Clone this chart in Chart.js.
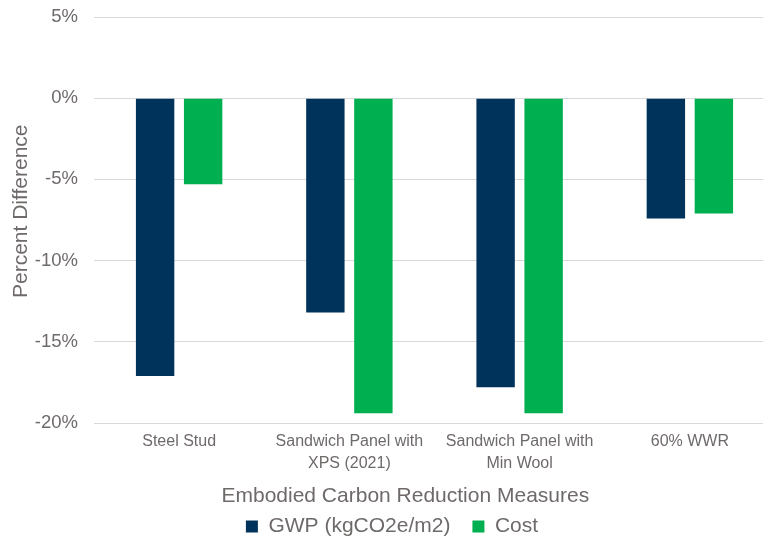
<!DOCTYPE html>
<html>
<head>
<meta charset="utf-8">
<script src="https://cdn.jsdelivr.net/npm/chart.js@4/dist/chart.umd.min.js"></script>
<style>
  html, body { margin: 0; padding: 0; background: #ffffff; overflow: hidden; }
  #wrap { width: 763px; height: 538px; overflow: hidden; position: relative; }
  #chart { position: absolute; left: 0; top: 0; }
</style>
</head>
<body>
<div id="wrap"><canvas id="chart" width="776" height="547"></canvas></div>
<script>
// Embodied carbon reduction measures vs. baseline (percent difference)
const categories = [
  "Steel Stud",
  ["Sandwich Panel with", "XPS (2021)"],
  ["Sandwich Panel with", "Min Wool"],
  "60% WWR"
];
const gwpValues = [-17.1, -13.2, -17.8, -7.4];
const costValues = [-5.3, -19.4, -19.4, -7.1];
const yTicks = { min: -20, max: 5, step: 5 };

const textGray = "#6f6a6a";
const fontFamily = "'Liberation Sans', Arial, sans-serif";

new Chart(document.getElementById("chart"), {
  type: "bar",
  data: {
    labels: categories,
    datasets: [
      {
        label: "GWP (kgCO2e/m2)",
        data: gwpValues,
        backgroundColor: "#00335b",
        categoryPercentage: 0.564,
        barPercentage: 0.8
      },
      {
        label: "Cost",
        data: costValues,
        backgroundColor: "#00b050",
        categoryPercentage: 0.564,
        barPercentage: 0.8
      }
    ]
  },
  options: {
    responsive: false,
    animation: false,
    layout: { padding: { top: 0, right: 1, left: 9, bottom: 0 } },
    plugins: {
      tooltip: { enabled: false },
      legend: {
        position: "bottom",
        labels: {
          color: textGray,
          font: { family: fontFamily, size: 21 },
          boxWidth: 12,
          boxHeight: 12,
          padding: 22
        }
      }
    },
    scales: {
      x: {
        grid: { display: false, drawTicks: false },
        border: { display: false },
        ticks: {
          color: textGray,
          font: { family: fontFamily, size: 16, lineHeight: "22px" },
          padding: 8,
          maxRotation: 0,
          autoSkip: false
        },
        title: {
          display: true,
          // trailing spaces nudge the centred title to the left
          text: "Embodied Carbon Reduction Measures" + " ".repeat(10),
          color: textGray,
          font: { family: fontFamily, size: 21 },
          padding: { top: 0, bottom: -14.6 }
        },
        afterFit: (scale) => { scale.height = 71; }
      },
      y: {
        min: yTicks.min,
        max: yTicks.max,
        grid: { color: "#d9d9d9", drawTicks: false, lineWidth: 1 },
        border: { display: false },
        ticks: {
          stepSize: yTicks.step,
          color: textGray,
          font: { family: fontFamily, size: 18.5 },
          padding: 16,
          callback: (v) => v + "%"
        },
        title: {
          display: true,
          // leading spaces lift the rotated title slightly
          text: " ".repeat(3) + "Percent Difference",
          color: textGray,
          font: { family: fontFamily, size: 21 },
          padding: { top: 0, bottom: 0 }
        },
        afterFit: (scale) => {
          scale.width = 85;
          scale.paddingTop = 17;
        }
      }
    }
  }
});
</script>
</body>
</html>
